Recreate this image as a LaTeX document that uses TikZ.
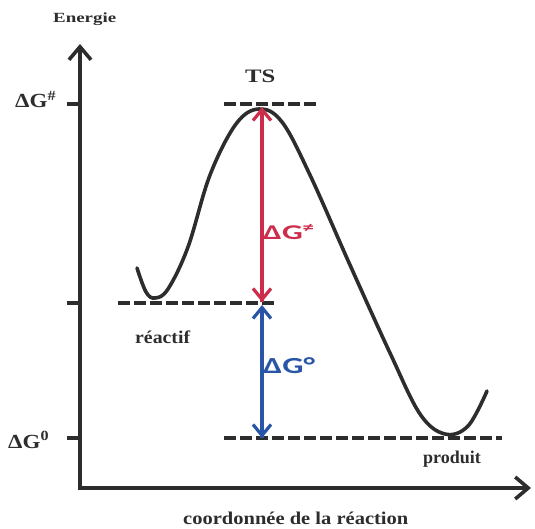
\documentclass[tikz,border=0pt]{standalone}
\usepackage{fontspec}
\setmainfont{Liberation Serif}
\newfontfamily\lblfont{Carlito}
\usetikzlibrary{arrows.meta}
\definecolor{axisgray}{RGB}{45,45,45}
\definecolor{dgred}{RGB}{205,45,75}
\definecolor{dgblue}{RGB}{40,85,165}
\tikzset{
  axisline/.style={line width=3.8pt, draw=axisgray, -{Straight Barb[length=13pt,width=22pt,line width=3.6pt]}},
  levelline/.style={line width=4pt, draw=axisgray, dash pattern=on 12pt off 4pt},
  tickline/.style={line width=4pt, draw=axisgray},
  curveline/.style={line width=3.6pt, draw=axisgray, line cap=round},
  lbl/.style={font=\bfseries\fontsize{18}{20}\selectfont, text=axisgray, inner sep=0pt, anchor=base west},
  dglbl/.style={font=\lblfont\bfseries\fontsize{21}{24}\selectfont, inner sep=0pt, anchor=base west},
  redarrow/.style={line width=3.2pt, draw=dgred, -{Straight Barb[length=11pt,width=18pt,line width=3.2pt]}},
  bluearrow/.style={line width=3.2pt, draw=dgblue, -{Straight Barb[length=11pt,width=18pt,line width=3.2pt]}},
}
\begin{document}
\begin{tikzpicture}[x=1pt,y=-1pt]
\useasboundingbox (0,0) rectangle (535,529);
% axes
\coordinate (ybot) at (80,490);
\coordinate (ytop) at (80,44);
\coordinate (xbeg) at (78.1,488);
\coordinate (xend) at (531,488);
\draw[axisline] (ybot) -- (ytop);
\draw[axisline] (xbeg) -- (xend);
% ticks
\coordinate (t1a) at (67,104); \coordinate (t1b) at (80,104);
\coordinate (t2a) at (67,303); \coordinate (t2b) at (80,303);
\coordinate (t3a) at (67,438); \coordinate (t3b) at (80,438);
\draw[tickline] (t1a) -- (t1b);
\draw[tickline] (t2a) -- (t2b);
\draw[tickline] (t3a) -- (t3b);
% levels
\coordinate (tsl) at (224,104); \coordinate (tsr) at (316,104);
\coordinate (rl) at (118,303); \coordinate (rr) at (276,303);
\coordinate (pl) at (224,438); \coordinate (pr) at (502,438);
\draw[levelline] (tsl) -- (tsr);
\draw[levelline] (rl) -- (rr);
\draw[levelline] (pl) -- (pr);
% curve
\draw[curveline] plot[smooth, tension=0.6] coordinates {
 (137,268) (146,292) (155,298) (168,289) (188,247) (210,175) (236,124) (259,109)
 (282,122) (310,175) (350,265) (390,353) (420,414) (445,434) (468,426) (487,391)};
% arrows
\coordinate (pk) at (262,107);
\coordinate (rs) at (262,118);
\coordinate (rc) at (262,302);
\coordinate (rcb) at (262,305);
\coordinate (bs) at (262,314);
\coordinate (pc) at (262,438);
\draw[redarrow] (rc) -- (pk);
\draw[redarrow] (rs) -- (rc);
\draw[bluearrow] (pc) -- (rcb);
\draw[bluearrow] (bs) -- (pc);
% labels
\node[lbl, font=\bfseries\fontsize{14}{16}\selectfont] (energie) at (53,23) {\scalebox{1.35}[1]{Energie}};
\node[lbl, font=\bfseries\fontsize{19}{21}\selectfont] (ts) at (245,83) {\scalebox{1.3}[1]{TS}};
\node[lbl, font=\bfseries\fontsize{20}{22}\selectfont] (dgts) at (15,108) {\scalebox{1.15}[1]{ΔG\textsuperscript{\#}}};
\node[lbl, font=\bfseries\fontsize{20}{22}\selectfont] (dg0) at (8,448) {\scalebox{1.15}[1]{ΔG\textsuperscript{0}}};
\node[lbl] (react) at (135,343) {\scalebox{1.1}[1]{réactif}};
\node[lbl] (prod) at (423,463) {produit};
\node[lbl] (coord) at (183,524) {\scalebox{1.14}[1]{coordonnée de la réaction}};
\node[dglbl, text=dgred] (dgneq) at (263,240) {\scalebox{1.55}[1]{ΔG\textsuperscript{≠}}};
\node[dglbl, text=dgblue, font=\lblfont\bfseries\fontsize{23}{26}\selectfont] (dgdeg) at (263,373) {\scalebox{1.45}[1]{ΔG°}};
\end{tikzpicture}
\end{document}
